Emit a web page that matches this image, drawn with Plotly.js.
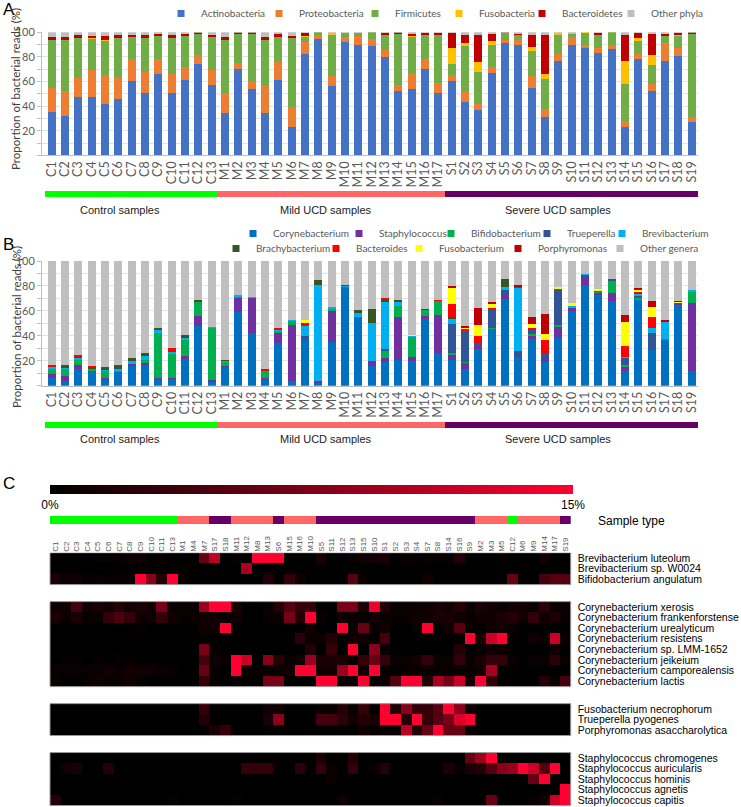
<!DOCTYPE html>
<html><head><meta charset="utf-8">
<script src="https://cdn.plot.ly/plotly-3.0.1.min.js"></script>
<style>html,body{margin:0;padding:0;background:#fff}#chart{width:741px;height:807px}</style>
</head><body><div id="chart"></div>
<script>
// ---------- DATA ----------
const samples = ['C1','C2','C3','C4','C5','C6','C7','C8','C9','C10','C11','C12','C13',
  'M1','M2','M3','M4','M5','M6','M7','M8','M9','M10','M11','M12','M13','M14','M15','M16','M17',
  'S1','S2','S3','S4','S5','S6','S7','S8','S9','S10','S11','S12','S13','S14','S15','S16','S17','S18','S19'];

// Panel A: phyla (%)
const actinobacteria = [35,32,47,47.5,42,45.5,60.5,51,66,51,61,74.5,57, 34,70,54,34,61,23,82.4,94.6,56,92,90,89,80,52,54,70,50.7, 60.4,43.6,36.6,67,91.6,89.7,55,31,77,89.4,87.5,83,86.4,23,78.3,52,77,80.5,27];
const proteobacteria = [20,20,16,21.5,23,18.5,17.5,17,12,15.5,11,7,12.5, 17,5,6.5,22.6,15,16,9.6,3,8.5,4,7.3,5.6,6,5,12.7,8,8.1, 4.6,8.2,5.4,4.5,2.4,3.8,9.5,6.7,5,6.6,1.9,4.5,3.6,5,4.1,6,14.6,7,4];
const firmicutes = [39,42,32.5,25.5,28,31.5,18,27.5,19.5,29,25.5,17.5,27, 43,24,38.5,37.2,20.5,56.6,4,2.4,33.5,3.7,2.2,5.4,12,41.6,29.8,20,39.2, 9,37.2,25.5,18.5,5.5,4.1,20.5,24.3,16,3,9.9,10.5,10,29.7,10.8,15.4,5.4,9.5,68];
const fusobacteria = [0,0,0,0.8,1,0,0,0,0,0,0,0,0, 0,0,0,0,0,0,1.3,0,0.8,0,0,0,0,0,0.5,0,0, 13,2.6,8.5,3.2,0,0.4,3,4,1,0,0.7,0,0,19.3,2.2,8.2,0,0.5,0];
const bacteroidetes = [2.5,2.5,2.5,1.7,3,2,1.8,2.5,1,2.5,1,0.4,1.3, 2.5,0.5,0.5,2.7,1.8,1.7,2.2,0,0,0,0,0,1.5,0.9,1.4,1.3,1.3, 12.5,6.4,22,5.8,0.3,1,10,32,0,0,0,1.5,0,21,4.1,17.4,2,2,0.7];
const otherPhyla = [3.5,3.5,2,3,3,2.5,2.2,2,1.5,2,1.5,0.6,2.2, 3.5,0.5,0.5,3.5,1.7,2.7,0.5,0,1.2,0.3,0.5,0,0.5,0.5,1.6,0.7,0.7, 0.5,2,2,1,0.2,1,2,2,1,1,0,0.5,0,2,0.5,1,1,0.5,0.3];
const phylaNames = ['Actinobacteria','Proteobacteria','Firmicutes','Fusobacteria','Bacteroidetes','Other phyla'];

// Panel B: genera (%)
const corynebacterium = [6,4,13,11.5,6,11,16.5,16.5,5.5,5.5,22,48,3.5, 15,59.5,42,5.5,34.2,3.7,36.6,2.4,35.3,79.4,55,16,19.3,20.9,19.8,53.2,26.2, 20.9,13.1,29.1,45.5,69.8,23.3,38,19.3,38,60.2,81,73,68.2,12,69.3,28.6,37.2,65,11.8];
const staphylococcus = [3.5,4,3.5,0.5,0.5,0.5,1,2,1,1,1.5,8,1, 1,11,28.5,0.5,7.8,45.3,0,1.1,24.9,0,0,4,2.9,33.9,2.9,2.4,30.8, 4.5,5.1,3.5,0,2.9,0,1.6,1.8,9.3,2.1,5.9,1.6,6.1,3.5,0,0,0,1,54.5];
const bifidobacterium = [4.5,5.5,4.5,2,6,1,0.5,2,36,19.5,13.5,11.5,42, 3.5,1,0,6,2.4,2.9,0,0,1.6,0,0,0,5.8,8.8,16.9,5.6,11, 0.6,0.8,0,0.5,0,0,1.6,0,1.1,0,0,1.3,9.4,1.3,1.3,0,0.5,0,9.1];
const trueperella = [0,0,0,0,0,0,0,0,0,0,0,0,0, 0,0,0,0,0,0,3.2,0,0,0,0,0,1.4,0,0,0,0, 23.2,25.4,1.4,16,4,4.8,3.5,4.8,29.4,0,2.1,0.3,1.6,5.9,1.3,13.9,0,0.8,0];
const brevibacterium = [1,0.3,1.5,0,0.5,1,1.5,3.5,2.5,1.5,2,0,0.5, 0.7,1,1,0.5,0.8,0.5,8.1,77.2,1,1.1,3,30,38,3.5,0.5,0,0, 4.3,0,0,0,2.7,50.8,0,0,0,2.4,0.8,0,0,0.6,1.9,3.5,13.5,0,1.1];
const brachybacterium = [0.5,2,1,1.3,1.2,3,3,1.5,1.5,1,1,1,0, 0.8,0,0,0,0,0,0,3.8,0,0.5,2.4,11.2,2.1,1.6,0,0.6,0, 1.3,0,0,0,5.9,0,0,0,0,0,0,0,0,0,0,0,0,0,0];
const bacteroides = [1,0.5,1,0.3,1,0.5,0,1,0,1.5,0.5,0,0, 0,0,0,1,1.3,0,2.6,0,0,0,0,0,0.8,0,0,0,1, 11,1.1,6.1,0.5,0,0.8,1.3,10.7,0,0,0,0,0,8.5,1.1,8.8,0,0,0];
const fusobacterium = [0,0,0,0,0,0,0,0,0,0,0,0,0, 0,0,0,0,0,0,2.2,0,0,0,0,0,0,0,0.9,0,0, 12.8,1,8.3,3.3,0,0,3.2,4.8,1.3,1.3,0,1.1,0,19.3,2.1,8,0,0.6,0];
const porphyromonas = [0,0,0,0,0,0,0,0,0,0,0,0,0, 0,0,0,0,0,0,0.3,0,0,0,0,0,0,0,0,0,0, 1.1,1,13.6,1.7,0,0.8,5.6,16.1,0,0,0,0,0,5.6,1.6,4.8,1.5,0.8,0];
const otherGenera = [83.5,83.7,75.5,84.4,84.8,83,77.5,73.5,53.5,70,59.5,31.5,53, 79,27.5,28.5,86.5,53.5,47.6,47,15.5,37.2,19,39.6,38.8,29.7,31.3,59,38.2,31, 20.3,52.5,38,32.5,14.7,19.5,45.2,42.5,20.9,34,10.2,22.7,14.7,43.3,21.4,32.4,47.3,31.8,23.5];
const generaNames = ['Corynebacterium','Staphylococcus','Bifidobacterium','Trueperella','Brevibacterium',
  'Brachybacterium','Bacteroides','Fusobacterium','Porphyromonas','Other genera'];

const groupLabels = ['Control samples','Mild UCD samples','Severe UCD samples'];
const yTitle = 'Proportion of bacterial reads (%)';

// Panel C: heatmap (% of reads, 0-15 scale), columns in clustered order
const heatOrder = ['C1','C2','C3','C4','C5','C6','C7','C8','C9','C10','C11','C13','M1','M4','M7','S17','S18',
  'M11','M12','M8','M13','S6','M15','M16','M10','S5','S11','S12','S13','S15','S10',
  'S1','S2','S3','S4','S7','S8','S14','S16','S9','M2','M3','M5','C12','M6','M9','M14','M17','S19'];
const brevLuteolum = [0,0,0,0,0.3,0.3,0.3,0.8,0.8,0.3,0.5,0, 0,0,6, 11,0, 0.5,0,15,15, 15, 0,0,0, 1.5,0,0,0.5,1,1, 1.5,0,0.5,0.3,0.3,0.3,0.3,2,0, 0,0,0.5, 0, 0,0,1,0, 0];
const brevW0024 = [0,0,0,0,0,0,0,0,0,0,0,0, 0,0,0, 0,0, 0,10,0,0, 0, 0,0,0, 0,0,0,0,0,0, 0,0,0,0,0,0,0,0,0, 0,0,0, 0, 0,0,0,0, 0];
const bifAngulatum = [1.5,0.5,1,0.3,0.5,0.3,0.3,0.5,15,8,2,15, 0.5,0,0, 0,0, 0,0,0,2, 0, 3,1,0, 0,0,0,5,0.5,0, 0,0,0,0,1,0,0,0,0, 0,0,0, 6, 0,0,4,5, 5];
const corXerosis = [1,1,4,1,1.5,1,2,1,1.5,1,7,0.5, 0.5,0.5,9, 15,15, 1.5,0,0,0.5, 2, 5,3,3, 0,0,7,7,1.5,14, 2,0.5,0.5,0.5,1,1.5,1,2,0.5, 1.5,1,0.5, 1, 1,0.5,2.5,0.5, 0.5];
const corFrankenforstense = [1.5,0.5,1.5,0.5,0.5,3,4.5,3,1,1,3,1, 0.5,0.5,1, 1,0.5, 1,0,0,0.5, 0.5, 7,2,15, 0.5,0,1,0.5,0.5,1, 0.5,0.5,0.5,1,1,1.5,1.5,1,0.5, 1,1,1.5, 2, 1,3,1,1.5, 0.5];
const corUrealyticum = [0,0,0,0,0,0,0,0,0.3,0,0,0, 0,0,1, 1,15, 0,0,0,0, 0, 0,0,1, 0,0,15,0.5,6,0.5, 1,0,0,0.5,15,0,1,5,0.5, 0,1,1, 0.5, 0,0,0,0, 0];
const corResistens = [0,0,0,0,0,0,0,0,0,0,0,0, 0,0,0.3, 0,0, 0,0,0,0, 0, 0,2.5,0.5, 0.5,2,0,1,1,0, 4,0,0,0,0,0,0,0,15, 1.5,12,15, 0, 0,1,0.5,12, 0.5];
const corLMM1652 = [0,0,0,0,0,0,0,0,0,0,0,0, 0,0,7, 0.5,0, 0,0,0,0, 0, 0,0,2, 0,3,0,15,0,8, 0.5,0,0,0,0,0,0,2,0, 0.5,1,1, 0, 0,0,0,1, 0];
const corJeikeium = [0,0.3,0.3,0,0.3,0,0.3,0.5,0,0,0,0, 0,0,4, 1,0.5, 15,12,0,8, 2, 0.5,1,9, 1.5,1.5,1.5,0.5,3,6, 3,0.5,0.5,1,3,0.5,0.5,3,0.5, 1.5,3,3, 0.5, 0,0.5,0.5,2.5, 0.5];
const corCamporealensis = [0.5,0.5,0.5,0.5,0.5,1,0.5,1,1,1,0.5,0.3, 0,0,6, 0.5,0, 15,0.5,0.5,0.5, 0.5, 1,15,15, 1,1,9,15,1,15, 0.5,0,0.5,0.5,0.5,0.5,0.5,0.5,0.5, 1,10,0, 0, 0,0,0,0, 0];
const corLactis = [0.5,0,0,0.5,1,0.5,0.5,1,0.5,0,0,0, 0,0,3, 0.5,0, 0.5,0,0,7, 7, 0,0,0, 15,15,0.5,0.5,15,0.5, 0.5,5,15,15,2,10,7,12,1, 15,3,0, 0, 0,0,2,0.5, 4];
const fusNecrophorum = [0,0,0,0,0,0,0,0,0,0,0,0, 0,0,3, 0,0, 0,0,0,1, 1, 0,0,0, 0.5,0.5,2,0.5,3,0, 15,2,8,3,3,5,15,8,1, 0,0,0, 0, 0,0,0,0, 0];
const truPyogenes = [0,0,0,0,0,0,0,0,0,0,0,0, 0,0,2, 0,0, 0,0,0,1.5, 8, 0,0,0, 4,4,2.5,1,2,1.5, 15,15,2,15,3,5,7,13,15, 0,0,0, 0, 0,0,0,0, 0];
const porAsaccharolytica = [0,0,0,0,0,0,0,0,0,0,0,0, 0,0,0, 1.5,3, 0,0,0,0, 0, 0,0,0, 0,0,0,0,1,0, 0.5,0.5,11,2,6,15,6,6,0.5, 0,0,0, 0, 0,0,0,0, 0];
const staChromogenes = [0,0,0,0,0,0,0,0,0,0,0,0, 0,0,0, 0,0, 0,0,0,0, 0, 0,0,0, 1.5,0,0,2,0,0, 0,0,0,0,0,0,0,0,6, 9,15,0, 0, 0,0,0,0, 0];
const staAuricularis = [0,1,1.5,0,0,2,0,0,0,0,0,0, 0,0,0, 0,0, 0,3,3,3, 0, 0,2.5,0, 3,0.5,0,3,0,0.5, 2,0,0,0,0,0,1.5,0.5,1.5, 2,5,8, 9, 15,12,5,15, 0];
const staHominis = [0,0,0,0,0,0,0,0,0,0,0,0, 0,0,0, 0,0, 0,0,0,0, 0, 0,0,0, 0,0.5,0,0,0,0, 0,0,0,0,0,0,0,0,0, 0,0,0, 0, 0,6,15,0.5, 0];
const staAgnetis = [0,0,0,0,0,0,0,0,0,0,0,0, 0,0,0, 0,0, 0,0,0,0, 0, 0,0,0, 0,0,0,0,0,0, 0,0,0,0,0,0,0,0,0, 0,0,0, 0, 0,0,0,0, 15];
const staCapitis = [2,0,0,0,0,0,0,0,0,0,0,0.5, 0,0,0, 0,0, 0.5,0,0,0, 0, 0,0,0, 0,0,1,0,0,0, 0,0,0,0,0,0.5,0,0,0, 0,6,0, 0, 0,0.5,1,12, 15];

const heatGroups = [
  {names:['Brevibacterium luteolum','Brevibacterium sp. W0024','Bifidobacterium angulatum'],
   rows:[brevLuteolum, brevW0024, bifAngulatum]},
  {names:['Corynebacterium xerosis','Corynebacterium frankenforstense','Corynebacterium urealyticum','Corynebacterium resistens',
          'Corynebacterium sp. LMM-1652','Corynebacterium jeikeium','Corynebacterium camporealensis','Corynebacterium lactis'],
   rows:[corXerosis, corFrankenforstense, corUrealyticum, corResistens, corLMM1652, corJeikeium, corCamporealensis, corLactis]},
  {names:['Fusobacterium necrophorum','Trueperella pyogenes','Porphyromonas asaccharolytica'],
   rows:[fusNecrophorum, truPyogenes, porAsaccharolytica]},
  {names:['Staphylococcus chromogenes','Staphylococcus auricularis','Staphylococcus hominis','Staphylococcus agnetis','Staphylococcus capitis'],
   rows:[staChromogenes, staAuricularis, staHominis, staAgnetis, staCapitis]}
];

// ---------- STYLE ----------
const W = 741, H = 807;
const P = v => v / W;          // px -> paper x
const Y = v => 1 - v / H;      // px -> paper y
const phylaColors = ['#4472C4','#ED7D31','#70AD47','#FFC000','#C00000','#BFBFBF'];
const generaColors = ['#0070C0','#7030A0','#00B050','#2F5597','#00B0F0','#375623','#FF0000','#FFFF00','#C00000','#BFBFBF'];
const typeScale = [[0,'#00FF00'],[0.5,'#FF6666'],[1,'#660066']];
const typeCode = s => ({C:0, M:1, S:2})[s[0]];
const legFont = {family:'Lato, sans-serif', size:10, color:'#595959'};

// legend item placement (marker centre x, centre y), in pixels
const phylaLegendPos = [[181,13.5],[279,13.5],[375,13.5],[459,13.5],[542,13.5],[631,13.5]];
const generaLegendPos = [[253,233.5],[359,233.5],[451,233.5],[547,233.5],[622,233.5],
                         [236,248.5],[336,248.5],[419,248.5],[518,248.5],[620,248.5]];
const MARK_OFF = 20;

const traces = [];
const layoutLegends = {};
let legIdx = 0;
function addLegend(name, color, xa, ya, pos) {
  legIdx++;
  const id = legIdx === 1 ? 'legend' : 'legend' + legIdx;
  layoutLegends[id] = {orientation:'h', xanchor:'left', yanchor:'middle', x:P(pos[0] - MARK_OFF), y:Y(pos[1]),
    bgcolor:'rgba(0,0,0,0)', font:legFont, itemclick:false, itemdoubleclick:false};
  traces.push({type:'scatter', mode:'markers', x:[null], y:[null], name, xaxis:xa, yaxis:ya, legend:id,
    marker:{symbol:'square', size:7, color}, hoverinfo:'skip', showlegend:true});
}

const phylaSeries = [actinobacteria, proteobacteria, firmicutes, fusobacteria, bacteroidetes, otherPhyla];
phylaSeries.forEach((vals, i) => traces.push({
  type:'bar', x:samples, y:vals, name:phylaNames[i], xaxis:'x', yaxis:'y', showlegend:false,
  marker:{color:phylaColors[i], line:{width:0}}, hoverinfo:'x+y+name'
}));
const generaSeries = [corynebacterium, staphylococcus, bifidobacterium, trueperella, brevibacterium,
  brachybacterium, bacteroides, fusobacterium, porphyromonas, otherGenera];
generaSeries.forEach((vals, i) => traces.push({
  type:'bar', x:samples, y:vals, name:generaNames[i], xaxis:'x2', yaxis:'y2', showlegend:false,
  marker:{color:generaColors[i], line:{width:0}}, hoverinfo:'x+y+name'
}));
phylaNames.forEach((n, i) => addLegend(n, phylaColors[i], 'x', 'y', phylaLegendPos[i]));
generaNames.forEach((n, i) => addLegend(n, generaColors[i], 'x2', 'y2', generaLegendPos[i]));

// sample type strips
[['x','y3'],['x2','y4']].forEach(([xa, ya]) => traces.push({
  type:'heatmap', x:samples, y:[0], z:[samples.map(typeCode)], xaxis:xa, yaxis:ya,
  colorscale:typeScale, zmin:0, zmax:2, showscale:false, hoverinfo:'skip'
}));
traces.push({
  type:'heatmap', x:heatOrder, y:[0], z:[heatOrder.map(typeCode)], xaxis:'x3', yaxis:'y6',
  colorscale:typeScale, zmin:0, zmax:2, showscale:false, hoverinfo:'skip'
});
// heatmap blocks, rows positioned with a gap between groups
const groupGap = 1.6;
const tickVals = [], tickText = [], blocks = [];
let pos = 0;
heatGroups.forEach(g => {
  const ys = g.rows.map((_, k) => pos + k + 0.5);
  blocks.push([pos, pos + g.rows.length]);
  ys.forEach((v, k) => { tickVals.push(v); tickText.push(g.names[k]); });
  traces.push({type:'heatmap', x:heatOrder, y:ys, z:g.rows, xaxis:'x3', yaxis:'y5', coloraxis:'coloraxis',
    hovertemplate:'%{x}<br>%{z}%<extra></extra>'});
  pos += g.rows.length + groupGap;
});
const yEnd = pos - groupGap;

const xDom = [P(42), P(698.3)];
const barY = (dom, anchor) => ({
  domain:dom, anchor, range:[0,100], tickvals:[20,40,60,80,100], zeroline:false,
  showline:true, linecolor:'#BFBFBF', ticks:'outside', ticklen:4, tickcolor:'#BFBFBF',
  showgrid:true, gridcolor:'#E4E4E4',
  minor:{dtick:10, tick0:0, showgrid:true, gridcolor:'#E4E4E4', ticks:'outside', ticklen:4, tickcolor:'#BFBFBF'},
  tickfont:{family:'Lato, sans-serif', size:11, color:'#595959'}
});
const barX = (anchor) => ({
  domain:xDom, anchor, type:'category', range:[-0.725, 48.5], tickangle:-90, ticks:'',
  tickmode:'array', tickvals:samples, ticktext:samples,
  showline:true, linecolor:'#BFBFBF', showgrid:false,
  tickfont:{family:'Lato, sans-serif', size:12.5, color:'#595959'}
});
const hidden = (dom, anchor) => ({domain:dom, anchor, visible:false, fixedrange:true});

const annotations = [
  {text:'A', x:P(1), y:Y(10)},
  {text:'B', x:P(1), y:Y(244)},
  {text:'C', x:P(1), y:Y(483)}
].map(a => Object.assign(a, {xref:'paper', yref:'paper', xanchor:'left', yanchor:'middle', showarrow:false,
  font:{family:'Liberation Sans, Arial', size:17, color:'#000'}}));
// y-axis titles of panels A and B
[89, 327].forEach(yy => annotations.push({text:yTitle, textangle:-90, x:P(16), y:Y(yy), xref:'paper', yref:'paper',
  xanchor:'center', yanchor:'middle', showarrow:false, font:{family:'Lato, sans-serif', size:11.5, color:'#404040'}}));
const groupX = [120, 326, 558];
[210, 439].forEach(yy => groupLabels.forEach((t, i) => annotations.push({
  text:t, x:P(groupX[i]), y:Y(yy), xref:'paper', yref:'paper', xanchor:'center', yanchor:'middle', showarrow:false,
  font:{family:'Liberation Sans, Arial', size:11, color:'#222'}
})));
annotations.push({text:'Sample type', x:P(596), y:Y(520.5), xref:'paper', yref:'paper', xanchor:'left', yanchor:'middle',
  showarrow:false, font:{family:'Liberation Sans, Arial', size:12, color:'#000'}});

const shapes = blocks.map(([a, b]) => ({type:'rect', xref:'x3 domain', yref:'y5', x0:0, x1:1, y0:a, y1:b,
  line:{color:'#999', width:1}, fillcolor:'rgba(0,0,0,0)', layer:'above'}));

const layout = Object.assign({
  width:W, height:H, margin:{l:0, r:0, t:0, b:0, autoexpand:false}, paper_bgcolor:'#fff', plot_bgcolor:'#fff',
  barmode:'stack', bargap:0.4, showlegend:true,
  xaxis: barX('y'),
  yaxis: barY([Y(155.3), Y(32.3)], 'x'),
  xaxis2: barX('y2'),
  yaxis2: barY([Y(385.7), Y(261)], 'x2'),
  yaxis3: hidden([Y(197), Y(191)], 'x'),
  yaxis4: hidden([Y(428), Y(422)], 'x2'),
  xaxis3: {domain:[P(50), P(570.7)], anchor:'y5', side:'top', type:'category', tickangle:-90, ticks:'',
    tickmode:'array', tickvals:heatOrder, ticktext:heatOrder,
    showgrid:false, showline:false, zeroline:false, tickfont:{family:'Liberation Sans, Arial', size:8, color:'#555'}},
  yaxis5: {domain:[Y(805.7), Y(552.7)], anchor:'x3', side:'right', range:[yEnd, 0], tickvals:tickVals, ticktext:tickText,
    ticks:'', ticklabelstandoff:6, showgrid:false, zeroline:false, showline:false,
    tickfont:{family:'Liberation Sans, Arial', size:10.5, color:'#000'}},
  yaxis6: hidden([Y(524), Y(516)], 'x3'),
  coloraxis: {cmin:0, cmax:15, colorscale:[[0,'#000000'],[1,'#FF0030']],
    colorbar:{orientation:'h', xref:'container', yref:'container', x:P(50), xanchor:'left', y:Y(485), yanchor:'top',
      len:522.7, lenmode:'pixels', thickness:9, thicknessmode:'pixels', xpad:0, ypad:0, outlinewidth:0, ticks:'',
      tickvals:[0,15], ticktext:['0%','15%'],
      tickfont:{family:'Liberation Sans, Arial', size:12, color:'#000'}}},
  annotations, shapes
}, layoutLegends);

Plotly.newPlot('chart', traces, layout, {displayModeBar:false, responsive:false});
</script></body></html>
